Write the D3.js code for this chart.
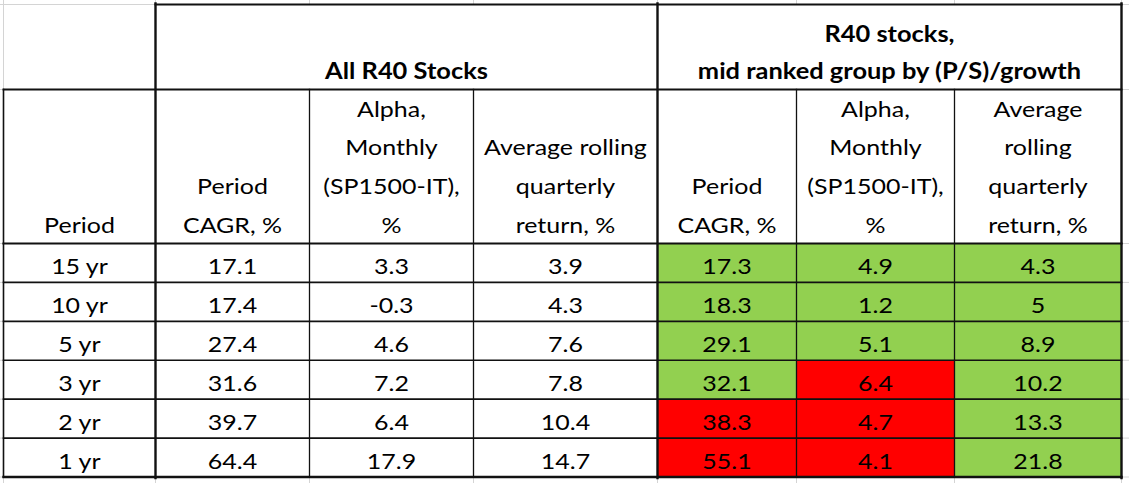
<!DOCTYPE html>
<html>
<head>
<meta charset="utf-8">
<script src="https://cdn.jsdelivr.net/npm/d3@7"></script>
<style>
  html, body { margin: 0; padding: 0; background: #fff; }
  svg { display: block; }
  text { font-family: Lato, "Open Sans", sans-serif; fill: #000; }
</style>
</head>
<body>
<svg id="chart" width="1129" height="483"></svg>
<script>
// ---------------- DATA ----------------
const periods = ["15 yr", "10 yr", "5 yr", "3 yr", "2 yr", "1 yr"];
const allCAGR  = [17.1, 17.4, 27.4, 31.6, 39.7, 64.4];
const allAlpha = [3.3, -0.3, 4.6, 7.2, 6.4, 17.9];
const allAvgQ  = [3.9, 4.3, 7.6, 7.8, 10.4, 14.7];
const midCAGR  = [17.3, 18.3, 29.1, 32.1, 38.3, 55.1];
const midAlpha = [4.9, 1.2, 5.1, 6.4, 4.7, 4.1];
const midAvgQ  = [4.3, 5, 8.9, 10.2, 13.3, 21.8];

const groupHeaders = [
  ["All R40 Stocks"],
  ["R40 stocks,", "mid ranked group by (P/S)/growth"]
];
const columnHeaders = [
  ["Period"],
  ["Period", "CAGR, %"],
  ["Alpha,", "Monthly", "(SP1500-IT),", "%"],
  ["Average rolling", "quarterly", "return, %"],
  ["Period", "CAGR, %"],
  ["Alpha,", "Monthly", "(SP1500-IT),", "%"],
  ["Average", "rolling", "quarterly", "return, %"]
];

// ---------------- LAYOUT ----------------
const W = 1129, H = 483;
const colWidths = [152, 154, 164, 184, 139, 158, 167];
const x0 = 3.5;
const edges = [x0];
colWidths.forEach(w => edges.push(edges[edges.length - 1] + w));
const yTop = 4.5, yH1 = 89.5, yH2 = 243.5, yBottom = 477;
const fontSize = 22;
const lineStep = 38.6;

const svg = d3.select("#chart");
const y = d3.scaleBand().domain(periods).range([yH2, yBottom]).paddingInner(0).paddingOuter(0);

// Excel-like background gridlines
const gridGray = "#d4d4d4";
const gridY = [yTop, yH1, yH2, ...periods.slice(1).map(p => y(p)), yBottom];
svg.append("g").selectAll("line.gv").data(edges).join("line")
  .attr("x1", d => d).attr("x2", d => d).attr("y1", 0).attr("y2", H)
  .attr("stroke", gridGray).attr("stroke-width", 1);
svg.append("g").selectAll("line.gh").data(gridY).join("line")
  .attr("x1", 0).attr("x2", W).attr("y1", d => d).attr("y2", d => d)
  .attr("stroke", gridGray).attr("stroke-width", 1);

// white table area
svg.append("rect").attr("x", edges[1]).attr("y", yTop)
  .attr("width", edges[7] - edges[1]).attr("height", yH1 - yTop).attr("fill", "#fff");
svg.append("rect").attr("x", edges[0]).attr("y", yH1)
  .attr("width", edges[7] - edges[0]).attr("height", yBottom - yH1).attr("fill", "#fff");

// data cells
const columns = [
  periods, allCAGR, allAlpha, allAvgQ, midCAGR, midAlpha, midAvgQ
];
const compareWith = {4: allCAGR, 5: allAlpha, 6: allAvgQ};
const GREEN = "#92d050", RED = "#ff0000";

const cells = [];
columns.forEach((col, ci) => {
  col.forEach((v, ri) => {
    let fill = null;
    if (compareWith[ci]) fill = v > compareWith[ci][ri] ? GREEN : RED;
    cells.push({ci, ri, v, fill});
  });
});

svg.append("g").selectAll("rect").data(cells.filter(c => c.fill)).join("rect")
  .attr("x", d => edges[d.ci]).attr("y", d => y(periods[d.ri]))
  .attr("width", d => edges[d.ci + 1] - edges[d.ci]).attr("height", y.bandwidth())
  .attr("fill", d => d.fill);

// borders
const borders = [];
borders.push({x1: edges[1], x2: edges[7], y1: yTop, y2: yTop, w: 2});
borders.push({x1: edges[0], x2: edges[7], y1: yH1, y2: yH1, w: 1.8});
borders.push({x1: edges[0], x2: edges[7], y1: yH2, y2: yH2, w: 2.2});
periods.slice(1).forEach(p => borders.push({x1: edges[0], x2: edges[7], y1: y(p), y2: y(p), w: 1.6}));
borders.push({x1: edges[0], x2: edges[7], y1: yBottom, y2: yBottom, w: 2.4});
borders.push({x1: edges[0], x2: edges[0], y1: yH1, y2: yBottom, w: 1.6});
[1, 4, 7].forEach(i => borders.push({x1: edges[i], x2: edges[i], y1: yTop - 1, y2: yBottom + 1, w: 2.4}));
[2, 3, 5, 6].forEach(i => borders.push({x1: edges[i], x2: edges[i], y1: yH1, y2: yBottom, w: 1.3}));

svg.append("g").selectAll("line").data(borders).join("line")
  .attr("x1", d => d.x1).attr("x2", d => d.x2).attr("y1", d => d.y1).attr("y2", d => d.y2)
  .attr("stroke", "#111").attr("stroke-width", d => d.w).attr("stroke-linecap", "square");

// ---------------- TEXT ----------------
const textG = svg.append("g");
const texts = [];

// group headers (bold)
const groupSpans = [[1, 4], [4, 7]];
groupHeaders.forEach((lines, gi) => {
  const cx = (edges[groupSpans[gi][0]] + edges[groupSpans[gi][1]]) / 2;
  const n = lines.length;
  lines.forEach((t, li) => {
    texts.push({t, x: cx, y: yH1 - 11 - (n - 1 - li) * 37, bold: true});
  });
});

// column headers
columnHeaders.forEach((lines, ci) => {
  const cx = (edges[ci] + edges[ci + 1]) / 2;
  const n = lines.length;
  lines.forEach((t, li) => {
    texts.push({t, x: cx, y: yH2 - 11 - (n - 1 - li) * lineStep, bold: false});
  });
});

// body values
cells.forEach(c => {
  const cx = (edges[c.ci] + edges[c.ci + 1]) / 2;
  texts.push({t: String(c.v), x: cx, y: y(periods[c.ri]) + y.bandwidth() - 8.5, bold: false});
});

const tSel = textG.selectAll("text").data(texts).join("text")
  .attr("x", d => d.x).attr("y", d => d.y)
  .attr("text-anchor", "middle")
  .attr("font-size", fontSize)
  .attr("font-weight", d => d.bold ? 700 : 400)
  .text(d => d.t);

// horizontal fit to Calibri-like widths
function ratioFor(refs, bold) {
  const probe = svg.append("text").attr("font-size", fontSize).attr("font-weight", bold ? 700 : 400);
  let s = 0;
  refs.forEach(([str, target]) => {
    probe.text(str);
    s += target / probe.node().getComputedTextLength();
  });
  probe.remove();
  return s / refs.length;
}
const rReg = ratioFor([["Monthly", 95], ["(SP1500-IT),", 141], ["CAGR, %", 93]], false);
const rBold = ratioFor([["mid ranked group by (P/S)/growth", 392], ["All R40 Stocks", 163], ["R40 stocks,", 127]], true);

tSel.each(function(d) {
  const len = this.getComputedTextLength();
  const r = d.bold ? rBold : rReg;
  d3.select(this).attr("textLength", len * r).attr("lengthAdjust", "spacingAndGlyphs");
});
</script>
</body>
</html>
